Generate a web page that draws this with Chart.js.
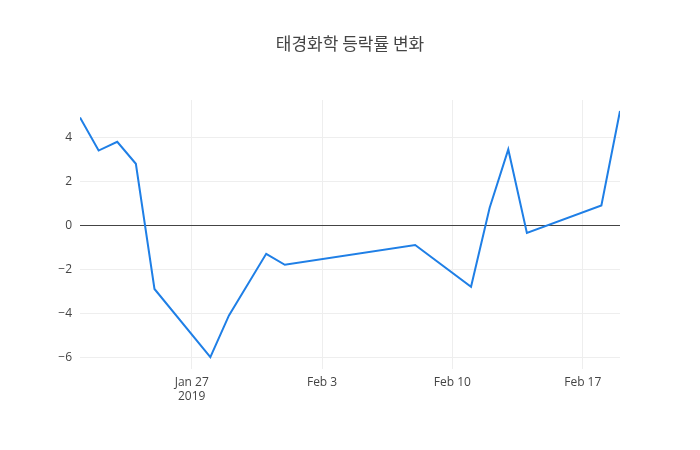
<!DOCTYPE html>
<html>
<head>
<meta charset="utf-8">
<script src="https://cdn.jsdelivr.net/npm/chart.js@4"></script>
<style>
  body { margin: 0; background: #fff; }
  #wrap { width: 700px; height: 450px; }
</style>
</head>
<body>
<div id="wrap"><canvas id="chart"></canvas></div>
<script>
// day offsets from Jan 21 2019
const days = [0, 1, 2, 3, 4, 7, 8, 10, 11, 18, 21, 22, 23, 24, 28, 29];
const rates = [4.9, 3.4, 3.8, 2.8, -2.9, -6.0, -4.1, -1.3, -1.8, -0.9, -2.8, 0.8, 3.45, -0.35, 0.9, 5.2];
const xTickDays = [6, 13, 20, 27];
const xTickLabels = [['Jan 27', '2019'], 'Feb 3', 'Feb 10', 'Feb 17'];
const yTicks = [-6, -4, -2, 0, 2, 4];
const titleText = '태경화학 등락률 변화';

const points = days.map((d, i) => ({ x: d, y: rates[i] }));

// title centred on the whole canvas, like the original
const centredTitle = {
  id: 'centredTitle',
  afterDraw(chart) {
    const ctx = chart.ctx;
    ctx.save();
    ctx.font = '17px "Noto Sans CJK KR"';
    ctx.fillStyle = '#444';
    ctx.textAlign = 'center';
    ctx.textBaseline = 'middle';
    ctx.fillText(titleText, chart.width / 2, 44);
    ctx.restore();
  }
};

new Chart(document.getElementById('chart'), {
  type: 'line',
  data: {
    datasets: [{
      data: points,
      borderColor: '#1f7fe6',
      borderWidth: 2,
      pointRadius: 0,
      tension: 0
    }]
  },
  plugins: [centredTitle],
  options: {
    responsive: true,
    maintainAspectRatio: false,
    animation: false,
    layout: { padding: { top: 100, right: 80, bottom: 40, left: 0 } },
    plugins: {
      legend: { display: false },
      tooltip: { enabled: false },
      title: { display: false }
    },
    scales: {
      x: {
        type: 'linear',
        min: 0,
        max: 29,
        afterBuildTicks: (axis) => { axis.ticks = xTickDays.map(v => ({ value: v })); },
        ticks: {
          color: '#444',
          font: { family: 'Open Sans', size: 12 },
          maxRotation: 0,
          padding: 6,
          callback: (v) => xTickLabels[xTickDays.indexOf(v)]
        },
        grid: { color: '#eee', drawTicks: false },
        border: { display: false }
      },
      y: {
        min: -6.55,
        max: 5.7,
        afterBuildTicks: (axis) => { axis.ticks = yTicks.map(v => ({ value: v })); },
        afterFit: (axis) => { axis.width = 80; },
        ticks: {
          color: '#444',
          font: { family: 'Open Sans', size: 12 },
          padding: 8,
          callback: (v) => v < 0 ? '\u2212' + Math.abs(v) : String(v)
        },
        grid: {
          drawTicks: false,
          color: (ctx) => ctx.tick && ctx.tick.value === 0 ? '#444' : '#eee',
          lineWidth: 1
        },
        border: { display: false }
      }
    }
  }
});
</script>
</body>
</html>
